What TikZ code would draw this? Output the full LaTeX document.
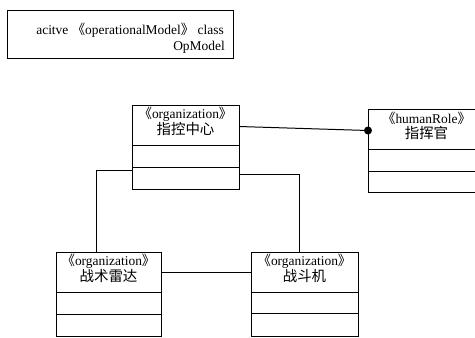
\documentclass[tikz,border=0pt]{standalone}
\usepackage{fontspec}
\setmainfont{Liberation Serif}
\newfontfamily\cjk{Noto Sans CJK SC}
\newcommand\stl{{\cjk 《}}
\newcommand\str{{\cjk 》}}
\tikzset{
  box/.style={draw, line width=1pt},
  divider/.style={line width=1pt},
  link/.style={line width=1pt},
  stereo/.style={inner sep=0pt, font=\fontsize{13.5}{16}\selectfont},
  title/.style={inner sep=0pt, font=\cjk\fontsize{14.5}{17}\selectfont},
}
% one class box: name, left, top, right, bottom, first divider, second divider, stereotype, title
\newcommand\classbox[9]{%
  \path[box] (#2,#3) rectangle (#4,#5);
  \coordinate (#1-nw) at (#2,#3);
  \coordinate (#1-se) at (#4,#5);
  \draw[divider] (#2,#6) -- (#4,#6);
  \draw[divider] (#2,#7) -- (#4,#7);
  \node[stereo] (#1-st) at ({(#2+#4)/2},{#3+9}) {\stl#8\str};
  \node[title] (#1-ti) at ({(#2+#4)/2},{#3+24}) {#9};
}
\begin{document}
\begin{tikzpicture}[x=1bp,y=-1bp]
\useasboundingbox (0,0) rectangle (475,337);
\clip (0,0) rectangle (475,337);

% model frame
\node[box, minimum width=226bp, minimum height=48bp, anchor=north west, inner sep=0pt] (frame) at (7,10) {};
\node[stereo, anchor=east] (fl1) at (224,30) {acitve \stl operationalModel\str\ class};
\node[stereo, anchor=east] (fl2) at (225,47) {OpModel};

% classes
\classbox{zk}{132}{105}{239}{189}{145}{167}{organization}{指控中心}
\classbox{zh}{368}{109}{485}{192}{149}{171}{humanRole}{指挥官}
\classbox{ld}{56}{252}{161}{336}{292}{314}{organization}{战术雷达}
\classbox{zd}{251}{252}{358}{336}{292}{313}{organization}{战斗机}

% connectors
\coordinate (zkR) at (239,126.5);
\coordinate (zhL) at (368,130.5);
\draw[link] (zkR) -- (zhL);
\fill (zhL) circle (4bp);

\coordinate (zkL2) at (132,170);
\coordinate (ldT) at (96,252);
\draw[link] (zkL2) -| (ldT);

\coordinate (zkR2) at (239,174);
\coordinate (zdT) at (299,252);
\draw[link] (zkR2) -| (zdT);

\coordinate (ldR) at (161,272);
\coordinate (zdL) at (251,272);
\draw[link] (ldR) -- (zdL);
\end{tikzpicture}
\end{document}
